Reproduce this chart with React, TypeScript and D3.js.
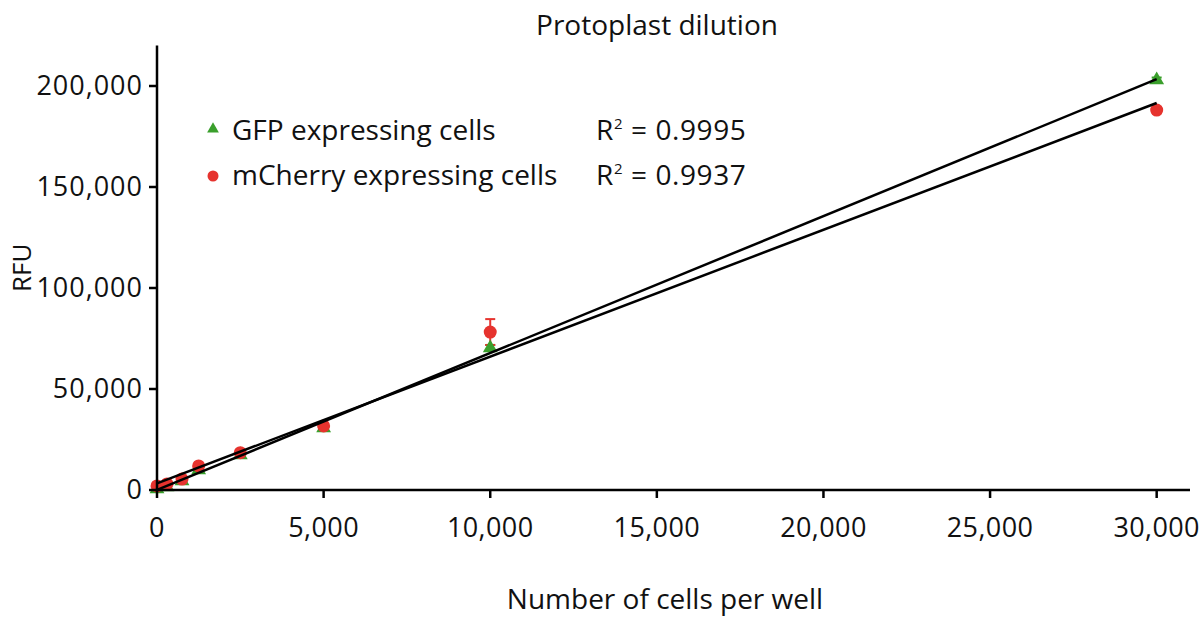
import React from "react";
import * as d3 from "d3";

const cellsPerWell = [0, 300, 750, 1250, 2500, 5000, 10000, 30000];
const gfpRFU = [500, 1500, 4500, 9900, 17300, 30700, 70300, 203000];
const gfpErr = [200, 200, 300, 400, 600, 800, 1500, 1200];
const mcherryRFU = [2000, 3000, 5400, 11900, 18500, 31700, 78200, 188100];
const mcherryErr = [300, 300, 400, 600, 800, 1000, 6400, 1500];
const xTicks = [0, 5000, 10000, 15000, 20000, 25000, 30000];
const yTicks = [0, 50000, 100000, 150000, 200000];
const seriesNames = ["GFP expressing cells", "mCherry expressing cells"];
const r2Labels = ["0.9995", "0.9937"];

const W = 1200;
const H = 622;
const FONT = "'Open Sans', sans-serif";
const GREEN = "#3a9f2c";
const RED = "#e6332e";

function fit(xs: number[], ys: number[]) {
  const mx = d3.mean(xs)!;
  const my = d3.mean(ys)!;
  let sxy = 0;
  let sxx = 0;
  xs.forEach((x, i) => {
    sxy += (x - mx) * (ys[i] - my);
    sxx += (x - mx) * (x - mx);
  });
  const slope = sxy / sxx;
  return { slope, intercept: my - slope * mx };
}

export default function App() {
  const x = d3.scaleLinear().domain([0, 31000]).range([157, 1190]);
  const y = d3.scaleLinear().domain([0, 220000]).range([490, 45.6]);
  const fmt = d3.format(",");
  const xMax = d3.max(cellsPerWell)!;
  const fits = [fit(cellsPerWell, gfpRFU), fit(cellsPerWell, mcherryRFU)];
  const line = d3
    .line<[number, number]>()
    .x((d) => x(d[0]))
    .y((d) => y(d[1]));
  const tri = d3.symbol().type(d3.symbolTriangle);

  const errBars = (vals: number[], errs: number[], color: string, key: string) =>
    cellsPerWell.map((c, i) => {
      const cx = x(c);
      const yt = y(vals[i] + errs[i]);
      const yb = y(vals[i] - errs[i]);
      return (
        <g key={key + i} stroke={color} strokeWidth={2}>
          <line x1={cx} x2={cx} y1={yt} y2={yb} />
          <line x1={cx - 5} x2={cx + 5} y1={yt} y2={yt} />
          <line x1={cx - 5} x2={cx + 5} y1={yb} y2={yb} />
        </g>
      );
    });

  return (
    <div style={{ position: "fixed", left: 0, top: 0 }}>
      <svg width={W} height={H} style={{ display: "block", background: "#fff" }}>
        {/* title */}
        <text x={657} y={35} textAnchor="middle" fontFamily={FONT} fontSize={28} fill="#111">
          Protoplast dilution
        </text>

        {/* error bars */}
        {errBars(gfpRFU, gfpErr, GREEN, "ge")}
        {errBars(mcherryRFU, mcherryErr, RED, "me")}

        {/* GFP triangles */}
        {cellsPerWell.map((c, i) => (
          <path
            key={"g" + i}
            d={tri.size(95)()!}
            transform={`translate(${x(c)},${y(gfpRFU[i])})`}
            fill={GREEN}
          />
        ))}
        {/* mCherry circles */}
        {cellsPerWell.map((c, i) => (
          <circle key={"m" + i} cx={x(c)} cy={y(mcherryRFU[i])} r={6.5} fill={RED} />
        ))}

        {/* regression lines */}
        {fits.map((f, i) => (
          <path
            key={"f" + i}
            d={line([
              [0, f.intercept],
              [xMax, f.intercept + f.slope * xMax],
            ])!}
            stroke="#000"
            strokeWidth={2.5}
            fill="none"
          />
        ))}

        {/* axes */}
        <line x1={x(0)} x2={x(0)} y1={y(0) + 1.25} y2={y.range()[1]} stroke="#000" strokeWidth={2.5} />
        <line x1={x(0) - 1.25} x2={x.range()[1]} y1={y(0)} y2={y(0)} stroke="#000" strokeWidth={2.5} />
        {xTicks.map((t) => (
          <g key={"xt" + t}>
            <line x1={x(t)} x2={x(t)} y1={y(0)} y2={y(0) + 8} stroke="#000" strokeWidth={2.5} />
            <text x={x(t)} y={537} textAnchor="middle" fontFamily={FONT} fontSize={27} letterSpacing={0.4} fill="#111">
              {fmt(t)}
            </text>
          </g>
        ))}
        {yTicks.map((t) => (
          <g key={"yt" + t}>
            <line x1={x(0) - 8} x2={x(0)} y1={y(t)} y2={y(t)} stroke="#000" strokeWidth={2.5} />
            <text x={143} y={y(t) + 9} textAnchor="end" fontFamily={FONT} fontSize={27} letterSpacing={1} fill="#111">
              {fmt(t)}
            </text>
          </g>
        ))}

        {/* axis titles */}
        <text x={665} y={609} textAnchor="middle" fontFamily={FONT} fontSize={28} fill="#111">
          Number of cells per well
        </text>
        <text
          transform={`translate(31,${(y(0) + y.range()[1]) / 2}) rotate(-90)`}
          textAnchor="middle"
          fontFamily={FONT}
          fontSize={26}
          fill="#111"
        >
          RFU
        </text>

        {/* legend */}
        <path d={tri.size(60)()!} transform="translate(213,129)" fill={GREEN} />
        <text x={232} y={140} fontFamily={FONT} fontSize={28} fill="#111">
          {seriesNames[0]}
        </text>
        <text x={596} y={140} fontFamily={FONT} fontSize={28} letterSpacing={0.6} fill="#111">
          R<tspan dy={-11} fontSize={15}>2</tspan>
          <tspan dy={11}> = {r2Labels[0]}</tspan>
        </text>
        <circle cx={213} cy={176} r={5.5} fill={RED} />
        <text x={232} y={185} fontFamily={FONT} fontSize={28} fill="#111">
          {seriesNames[1]}
        </text>
        <text x={596} y={185} fontFamily={FONT} fontSize={28} letterSpacing={0.6} fill="#111">
          R<tspan dy={-11} fontSize={15}>2</tspan>
          <tspan dy={11}> = {r2Labels[1]}</tspan>
        </text>
      </svg>
    </div>
  );
}
